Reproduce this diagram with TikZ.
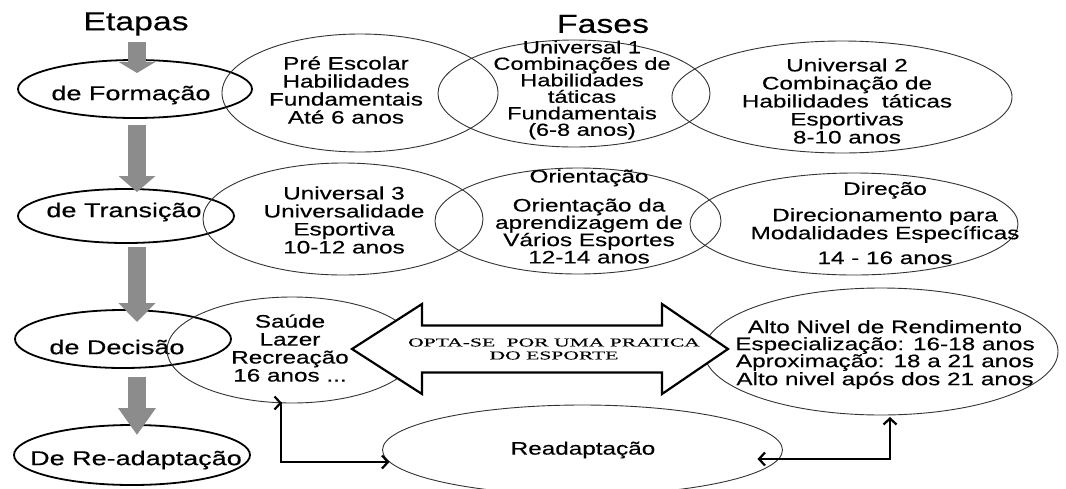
\documentclass[tikz,border=0pt]{standalone}
\usepackage{fontspec}
\setmainfont{Liberation Sans}
\newfontfamily\bodyfont{Liberation Sans}[FakeStretch=1.35,FakeBold=0.4]
\newfontfamily\titlefont{Liberation Sans}[FakeStretch=1.3,FakeBold=0.4]
\newfontfamily\bannerfont{Liberation Serif}[FakeStretch=1.8,FakeBold=0.3]
\usetikzlibrary{shapes.geometric,arrows.meta,calc}

\tikzset{
  title/.style={font=\titlefont\fontsize{26}{28}\selectfont, inner sep=0pt},
  stage/.style={ellipse, draw=black, line width=1.8pt, inner sep=0pt, outer sep=0pt},
  phase/.style={ellipse, draw=black!80, line width=0.9pt, inner sep=0pt, outer sep=0pt},
  stext/.style={font=\bodyfont\fontsize{20}{22}\selectfont, inner sep=0pt},
  ptext/.style={font=\bodyfont\fontsize{18}{#1}\selectfont, align=center, inner sep=0pt},
  ptext/.default=18,
  downblock/.style={line width=18pt, draw=black!45, -{Triangle[width=36pt,length=#1]}},
  bannerarrow/.style={draw=black, line width=2.2pt, fill=white, line join=miter},
  bannertext/.style={font=\bannerfont\fontsize{12}{13}\selectfont, align=center, inner sep=0pt},
  conn/.style={line width=2.2pt, draw=black,
    {Straight Barb[length=6pt,width=13pt]}-{Straight Barb[length=6pt,width=13pt]}},
}

\begin{document}
\begin{tikzpicture}[x=1pt,y=-1pt]
\useasboundingbox[fill=white] (0,0) rectangle (1066,488);

% column headings
\node[title] (etapas) at (136,24) {Etapas};
\node[title] (fases) at (603,24) {Fases};

% stages
\node[stage, minimum width=234pt, minimum height=58pt] (form) at (135,89) {};
\node[stext] (form-t) at (131,95) {de Formação};
\node[stage, minimum width=216pt, minimum height=54pt] (trans) at (126,216) {};
\node[stext] (trans-t) at (124,212) {de Transição};
\node[stage, minimum width=216pt, minimum height=58pt] (dec) at (123,339) {};
\node[stext] (dec-t) at (117,347) {de Decisão};
\node[stage, minimum width=236pt, minimum height=60pt] (readp) at (132,455) {};
\node[stext] (readp-t) at (136,460) {De Re-adaptação};

% arrows between stages
\draw[downblock=11pt] ($(etapas.south)+(1,6)$) -- ($(form.north)+(2,13)$);
\draw[downblock=16pt] ($(form.south)+(2,7)$) -- ($(trans.north)+(11,3)$);
\draw[downblock=19pt] ($(trans.south)+(11,4)$) -- ($(dec.north)+(14,12)$);
\draw[downblock=27pt] ($(dec.south)+(14,9)$) -- ($(readp.north)+(5,10)$);

% phases, first row
\node[phase, minimum width=276pt, minimum height=118pt] (pre) at (360,93) {};
\node[ptext] (pre-t) at (346,90) {Pré Escolar\\Habilidades\\Fundamentais\\Até 6 anos};
\node[phase, minimum width=272pt, minimum height=107pt] (uni1) at (574,93.5) {};
\node[ptext, font=\bodyfont\fontsize{17.5}{16.5}\selectfont] (uni1-t) at (582,90)
  {Universal 1\\Combinações de\\Habilidades\\táticas\\Fundamentais\\(6-8 anos)};
\node[phase, minimum width=340pt, minimum height=112pt] (uni2) at (842,97) {};
\node[ptext] (uni2-t) at (847,101) {Universal 2\\Combinação de\\Habilidades\hspace{0.35em} táticas\\Esportivas\\8-10 anos};

% phases, second row
\node[phase, minimum width=280pt, minimum height=112pt] (uni3) at (343,219) {};
\node[ptext] (uni3-t) at (344,220) {Universal 3\\Universalidade\\Esportiva\\10-12 anos};
\node[phase, minimum width=286pt, minimum height=106pt] (ori) at (578,221) {};
\node[ptext=17.3] (ori-t) at (589,216.5) {Orientação\\[11.7pt]Orientação da\\aprendizagem de\\Vários Esportes\\12-14 anos};
\node[phase, minimum width=328pt, minimum height=102pt] (dir) at (854,224) {};
\node[ptext=15.5] (dir-t) at (885,223) {Direção\\[8.5pt]Direcionamento para\\Modalidades Específicas\\[7.5pt]14 - 16 anos};

% phases, third row
\node[phase, minimum width=250pt, minimum height=106pt] (saude) at (292,350) {};
\node[ptext] (saude-t) at (290,348) {Saúde\\Lazer\\Recreação\\16 anos ...};
\node[phase, minimum width=354pt, minimum height=127pt] (alto) at (881,351.5) {};
\node[ptext=17] (alto-t) at (885,354.5)
  {Alto Nivel de Rendimento\\Especialização: 16-18 anos\\Aproximação: 18 a 21 anos\\Alto nivel após dos 21 anos};
\node[phase, minimum width=400pt, minimum height=90pt] (readapt) at (582.5,450) {};
\node[ptext] (readapt-t) at (583,450) {Readaptação};

% choice banner: a white double-headed block arrow
\coordinate (choice) at (540,349);
\draw[bannerarrow] ($(choice)+(-188,0)$) -- ++(70,-45) -- ++(0,21.5) -- ++(240,0)
  -- ++(0,-21.5) -- ++(66,45) -- ++(-66,45) -- ++(0,-21.5) -- ++(-240,0)
  -- ++(0,21.5) -- cycle;
\node[bannertext] (choice-t) at (554,349) {OPTA-SE\hspace{0.5em} POR UMA PRATICA\\DO ESPORTE};

% links to and from Readaptação
\draw[conn] ($(saude.south)+(-10,0)$) -- ++(-1,0) |- ($(readapt.center)+(-193,12)$);
\draw[conn] ($(readapt.center)+(175,9)$) -| ($(alto.south)+(9,2)$);
\end{tikzpicture}
\end{document}
